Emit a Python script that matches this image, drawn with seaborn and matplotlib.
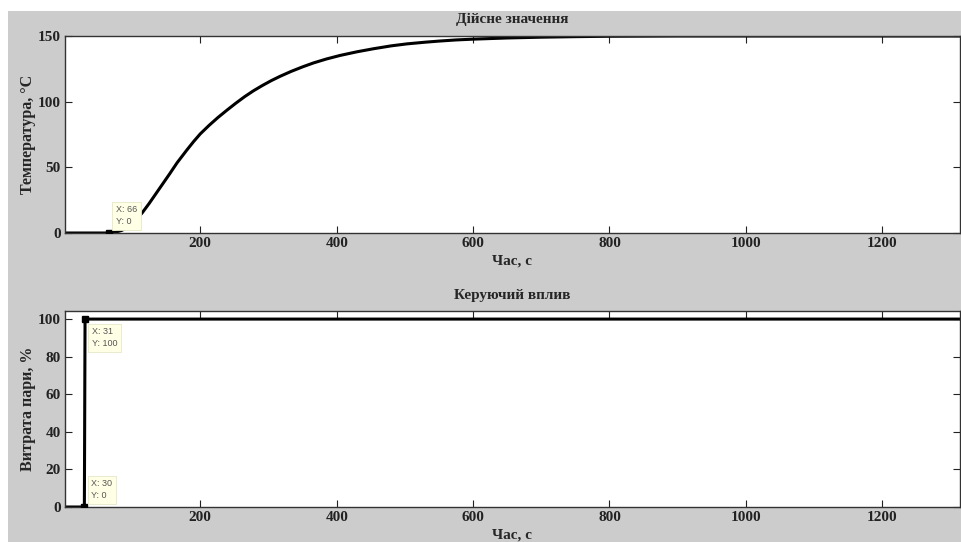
import numpy as np
import matplotlib
matplotlib.use("Agg")
import matplotlib.pyplot as plt
import seaborn as sns
from matplotlib.patches import Rectangle

time_temp = [0, 66, 75, 85, 95, 105, 115, 125, 135, 145, 155, 166, 180, 190,
             200, 213, 226, 239, 252, 265, 278, 291, 304, 317, 333, 350, 366,
             385, 405, 430, 454, 480, 503, 530, 552, 575, 600, 650, 700, 750,
             800, 900, 1320]
temp = [0, 0, 0.5, 2, 5, 9.5, 15.5, 22.5, 30, 37.5, 45, 53.5, 63, 69.5,
        75.5, 82, 88, 93.5, 98.8, 103.8, 108.3, 112.3, 116, 119.3, 123, 126.5, 129.5,
        132.5, 135.2, 138, 140.3, 142.5, 144, 145.3, 146.2, 147, 147.6, 148.5, 149.1, 149.5,
        149.8, 150, 150]

# bottom panel: control action (steam flow)
time_ctrl = [0, 30, 31, 1320]
ctrl = [0, 0, 100, 100]

# data tips
tip_top = (66, 0)
tip_bot = [(31, 100), (30, 0)]

xticks = [200, 400, 600, 800, 1000, 1200]

sns.set_style("ticks")
plt.rcParams['font.family'] = ['Liberation Serif', 'DejaVu Serif']
plt.rcParams['font.weight'] = 'bold'

fig = plt.figure(figsize=(9.62, 5.42), dpi=100, facecolor='white')
fig.patches.append(Rectangle((8 / 962, 0), 1, 1 - 11 / 542, transform=fig.transFigure,
                             facecolor='#cccccc', edgecolor='none', zorder=-10))

ax1 = fig.add_axes([65 / 962, 1 - 233 / 542, 895 / 962, 197 / 542])
ax2 = fig.add_axes([65 / 962, 1 - 507 / 542, 895 / 962, 196 / 542])

sns.lineplot(x=time_temp, y=temp, ax=ax1, color='black', lw=2.2, estimator=None, sort=False)
sns.lineplot(x=time_ctrl, y=ctrl, ax=ax2, color='black', lw=2.2, estimator=None, sort=False)

tip_font = dict(family='Liberation Sans', size=6.5, weight='normal', color='#555555',
                linespacing=1.4, zorder=10)
tip_box = dict(boxstyle='square,pad=0.4', fc='#ffffe6', ec='#e6e6c8', lw=0.6)

ax1.plot(*tip_top, marker='s', color='black', ms=5, zorder=5)
ax1.annotate(f"X: {tip_top[0]}\nY: {tip_top[1]}", xy=tip_top, xytext=(5, 5),
             textcoords='offset points', ha='left', va='bottom', bbox=tip_box, **tip_font)

for (xx, yy), off, va in zip(tip_bot, [(5, -6), (5, 5)], ['top', 'bottom']):
    ax2.plot(xx, yy, marker='s', color='black', ms=5, zorder=5)
    ax2.annotate(f"X: {xx}\nY: {yy}", xy=(xx, yy), xytext=off,
                 textcoords='offset points', ha='left', va=va, bbox=tip_box, **tip_font)

ax1.set_ylim(0, 150)
ax1.set_yticks([0, 50, 100, 150])
ax2.set_ylim(0, 104.3)
ax2.set_yticks([0, 20, 40, 60, 80, 100])

for ax, title, ylab in [(ax1, 'Дійсне значення', 'Температура, °С'),
                        (ax2, 'Керуючий вплив', 'Витрата пари, %')]:
    ax.set_xlim(1.6, 1314)
    ax.set_xticks(xticks)
    ax.set_facecolor('white')
    ax.tick_params(direction='in', length=5, width=0.8, top=True, right=True,
                   labelsize=11, pad=3, colors='#222222')
    ax.tick_params(axis='x', pad=3)
    for lab in ax.get_xticklabels() + ax.get_yticklabels():
        lab.set_fontweight('bold')
    for sp in ax.spines.values():
        sp.set_visible(True)
        sp.set_color('#333333')
        sp.set_linewidth(1)
    ax.set_title(title, fontsize=11, fontweight='bold', pad=9)
    ax.set_xlabel('Час, с', fontsize=11, fontweight='bold', labelpad=3)
    ax.set_ylabel(ylab, fontsize=11.5, fontweight='bold', labelpad=1)

fig.savefig('out.png', dpi=100, facecolor=fig.get_facecolor())
